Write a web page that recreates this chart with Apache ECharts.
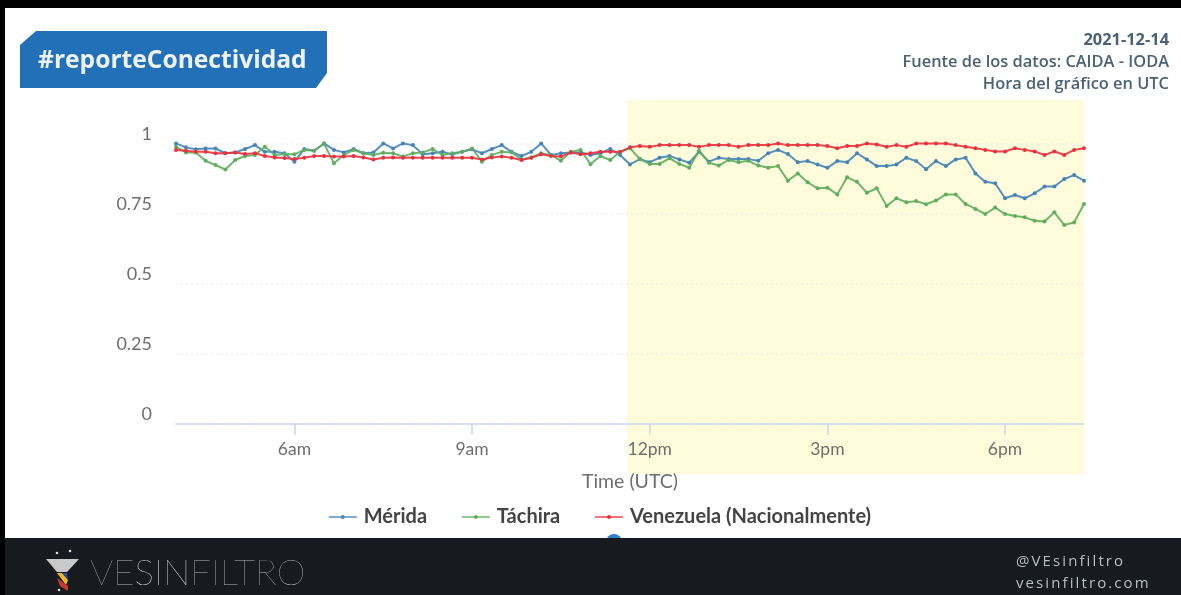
<!DOCTYPE html>
<html>
<head>
<meta charset="utf-8">
<script src="https://cdn.jsdelivr.net/npm/echarts@6/dist/echarts.min.js"></script>
<style>
html,body{margin:0;padding:0;background:#000;}
#main{position:absolute;left:0;top:0;width:1181px;height:595px;}
.foot{position:absolute;color:#b9bec2;font-family:"Open Sans";font-size:15px;letter-spacing:2.1px;line-height:20px;}
</style>
</head>
<body>
<div id="main"></div>
<div class="foot" style="left:1016px;top:550px;">@VEsinfiltro</div>
<div class="foot" style="left:1016px;top:572px;">vesinfiltro.com</div>
<script>
// una lectura cada 10 minutos, de 04:00 a 19:20 UTC
var merida = [1.002,.988,.981,.984,.984,.967,.970,.982,.996,.972,.972,.967,.937,.982,.976,1.002,.979,.970,.982,.967,.970,1.002,.984,
    1.002,.996,.963,.967,.972,.963,.972,.981,.967,.982,.996,.972,.957,.972,1.002,.961,.967,.970,.970,.961,.967,.982,.961,
    .927,.946,.935,.951,.957,.945,.933,.973,.937,.951,.946,.946,.946,.940,.967,.979,.964,.935,.939,.927,.915,.939,.935,.967,
    .945,.921,.921,.927,.951,.939,.910,.939,.921,.945,.951,.895,.865,.860,.806,.818,.806,.824,.848,.848,.875,.889,.869];
var tachira = [.990,.970,.970,.940,.925,.909,.943,.957,.961,.990,.961,.964,.963,.979,.976,1.002,.931,.961,.979,.967,.961,.969,.967,
    .955,.967,.970,.982,.961,.967,.972,.984,.937,.961,.972,.970,.945,.952,.967,.961,.940,.972,.979,.928,.957,.943,.972,
    .985,.946,.929,.929,.949,.929,.915,.976,.933,.923,.943,.935,.940,.923,.915,.921,.869,.895,.863,.842,.844,.820,.881,.865,
    .826,.842,.779,.806,.792,.796,.785,.798,.820,.820,.786,.768,.750,.773,.750,.743,.738,.726,.723,.756,.711,.720,.786];
var venezuela = [.979,.976,.972,.972,.967,.967,.970,.964,.967,.957,.952,.950,.946,.951,.957,.957,.955,.955,.957,.952,.945,.951,.952,
    .951,.951,.951,.951,.951,.951,.951,.951,.945,.952,.955,.951,.943,.951,.963,.957,.955,.970,.963,.967,.972,.972,.972,
    .988,.993,.990,.996,.996,.996,.996,.990,.996,.996,.996,.990,.996,.996,.996,1.002,.996,.996,.996,.996,.993,.985,.993,.993,
    1.002,.998,.990,.996,.990,1.002,1.002,1.002,1.002,.996,.990,.985,.979,.973,.973,.985,.979,.973,.961,.973,.961,.979,.985];
var seriesNames = ['Mérida', 'Táchira', 'Venezuela (Nacionalmente)'];
var seriesColors = ['#4584b6', '#5fae5f', '#e8323f'];

var times = [];
for (var i = 0; i < merida.length; i++) {
    times.push(4 + i / 6);
}

function isLabelTime(idx) {
    return Math.round(times[idx] * 6) % 18 == 0;
}
function hourLabel(idx) {
    var h = Math.round(times[idx]);
    if (h == 12) return '12pm';
    return h < 12 ? h + 'am' : (h - 12) + 'pm';
}

var myChart = echarts.init(document.getElementById('main'));

function makeSeries(name, data, color) {
    return {
        name: name,
        type: 'line',
        data: data,
        clip: false,
        symbol: 'circle',
        symbolSize: 4,
        showSymbol: true,
        itemStyle: { color: color },
        lineStyle: { color: color, width: 2, opacity: 0.9 },
        z: 3
    };
}

var option = {
    animation: false,
    backgroundColor: '#ffffff',
    textStyle: { fontFamily: 'Lato' },
    grid: { left: 176, right: 97, top: 144, bottom: 171 },
    legend: {
        left: 328, top: 507,
        padding: 0,
        itemWidth: 28, itemHeight: 5, itemGap: 34,
        lineStyle: { width: 1.5 },
        textStyle: { fontSize: 20, color: '#444444', fontFamily: 'Lato', fontWeight: 'bold', padding: [0, 0, 0, 2] },
        data: seriesNames
    },
    xAxis: {
        type: 'category',
        data: times,
        boundaryGap: false,
        name: 'Time (UTC)',
        nameLocation: 'middle',
        nameGap: 48,
        nameTextStyle: { fontSize: 19.5, color: '#6e6e6e' },
        axisLine: { lineStyle: { color: '#ccd6eb', width: 1.5 } },
        axisTick: {
            show: true,
            length: 11,
            alignWithLabel: true,
            interval: function (idx) { return isLabelTime(idx); },
            lineStyle: { color: '#ccd6eb', width: 1.5 }
        },
        axisLabel: {
            interval: function (idx) { return isLabelTime(idx); },
            formatter: function (val, idx) { return hourLabel(idx); },
            fontSize: 17.5, color: '#6e6e6e', margin: 16
        }
    },
    yAxis: {
        type: 'value',
        min: 0,
        max: 1,
        interval: 0.25,
        axisLine: { show: false },
        axisTick: { show: false },
        axisLabel: {
            formatter: function (v) { return String(v); },
            fontSize: 18, color: '#6e6e6e', margin: 24,
            verticalAlign: 'bottom', lineHeight: 20
        },
        splitLine: { lineStyle: { color: '#f0f0f0', type: [2, 3], width: 1.5 } }
    },
    series: [
        makeSeries(seriesNames[0], merida, seriesColors[0]),
        makeSeries(seriesNames[1], tachira, seriesColors[1]),
        makeSeries(seriesNames[2], venezuela, seriesColors[2])
    ],
    graphic: [
        // marco negro de la captura
        { type: 'rect', shape: { x: 0, y: 0, width: 1181, height: 8 }, style: { fill: '#000' }, z: 10 },
        { type: 'rect', shape: { x: 0, y: 0, width: 5, height: 595 }, style: { fill: '#000' }, z: 10 },
        // franja resaltada
        { type: 'rect', shape: { x: 627, y: 100, width: 457, height: 374 }, style: { fill: '#fffcdc' }, z: -1 },
        // etiqueta
        { type: 'polygon', shape: { points: [[20, 45], [36, 31], [327, 31], [327, 73], [316, 88], [20, 88]] }, style: { fill: '#2270b8' }, z: 5 },
        { type: 'text', x: 38, y: 61, style: { text: '#reporteConectividad', fill: '#eef3f8', font: 'bold 24.6px "Open Sans"', textVerticalAlign: 'middle' }, z: 6 },
        // datos de la fuente
        { type: 'text', x: 1169, y: 40, style: { text: '2021-12-14', fill: '#4a6274', font: 'bold 16.4px "Open Sans"', textAlign: 'right', textVerticalAlign: 'middle' }, z: 6 },
        { type: 'text', x: 1169, y: 62, style: { text: 'Fuente de los datos: CAIDA - IODA', fill: '#4a6274', font: '600 16.4px "Open Sans"', textAlign: 'right', textVerticalAlign: 'middle' }, z: 6 },
        { type: 'text', x: 1169, y: 84, style: { text: 'Hora del gráfico en UTC', fill: '#4a6274', font: '600 16.4px "Open Sans"', textAlign: 'right', textVerticalAlign: 'middle' }, z: 6 },
        // resto del punto azul cortado por el pie
        { type: 'circle', shape: { cx: 614, cy: 542, r: 8 }, style: { fill: '#2f80c8' }, z: 6 },
        // pie oscuro
        { type: 'rect', shape: { x: 5, y: 538, width: 1176, height: 57 }, style: { fill: '#171b1f' }, z: 7 },
        { type: 'polygon', shape: { points: [[46, 559], [79, 559], [67, 572], [57, 572]] }, style: { fill: '#c9c9c9' }, z: 8 },
        { type: 'polygon', shape: { points: [[57, 573], [62, 573], [68, 580], [66, 585]] }, style: { fill: '#f0b92a' }, z: 8 },
        { type: 'polygon', shape: { points: [[62, 573], [67, 573], [68, 580]] }, style: { fill: '#2b4f9e' }, z: 8 },
        { type: 'polygon', shape: { points: [[57, 578], [68, 586], [68, 591], [60, 586]] }, style: { fill: '#c8372d' }, z: 8 },
        { type: 'circle', shape: { cx: 57, cy: 553, r: 1.3 }, style: { fill: '#ddd' }, z: 8 },
        { type: 'circle', shape: { cx: 70, cy: 551, r: 1.3 }, style: { fill: '#ddd' }, z: 8 },
        { type: 'circle', shape: { cx: 59, cy: 590, r: 1.3 }, style: { fill: '#ddd' }, z: 8 },
        {
            type: 'text', x: 90, y: 573, z: 8,
            style: {
                text: '{a|VE}{b|SIN}{a|FILTRO}',
                textVerticalAlign: 'middle',
                rich: {
                    a: { fill: '#b5b8ba', font: '100 36.6px Lato' },
                    b: { fill: '#ffffff', font: '100 36.6px Lato' }
                }
            }
        }
    ]
};
myChart.setOption(option);
</script>
</body>
</html>
